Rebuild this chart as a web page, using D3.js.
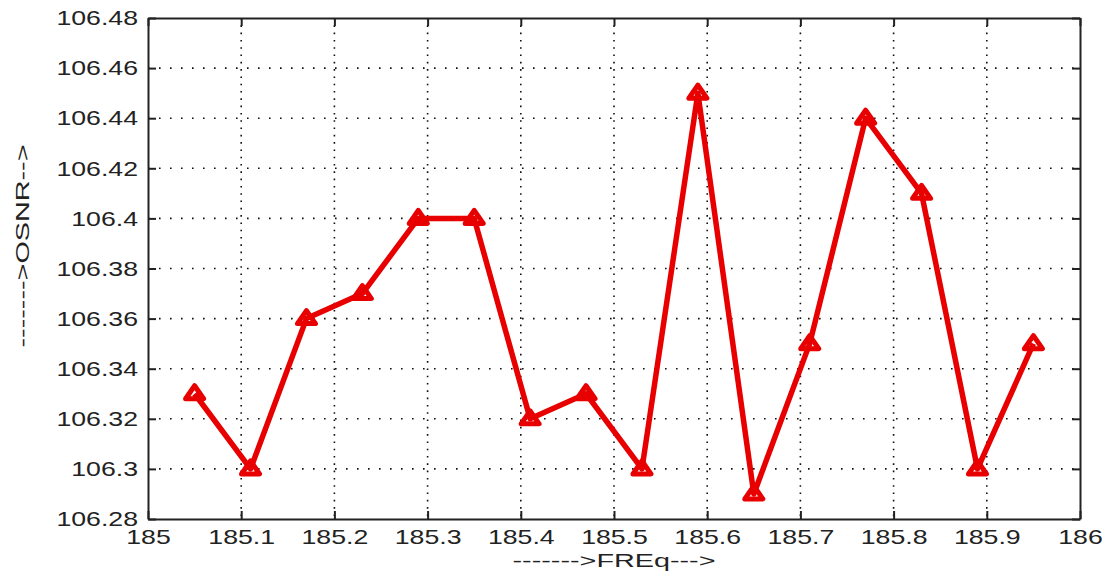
<!DOCTYPE html>
<html>
<head>
<meta charset="utf-8">
<script src="https://cdn.jsdelivr.net/npm/d3@7"></script>
<style>
  html, body { margin: 0; padding: 0; background: #fff; }
  svg { display: block; }
  .tick text { font-family: "Liberation Sans", Arial, sans-serif; fill: #222; }
</style>
</head>
<body>
<svg id="chart" width="1108" height="577"></svg>
<script>
// Frequency sweep and the measured OSNR at each channel
const freq = [185.05, 185.11, 185.17, 185.23, 185.29, 185.35, 185.41, 185.47,
              185.53, 185.59, 185.65, 185.71, 185.77, 185.83, 185.89, 185.95];
const osnr = [106.33, 106.30, 106.36, 106.37, 106.40, 106.40, 106.32, 106.33,
              106.30, 106.45, 106.29, 106.35, 106.44, 106.41, 106.30, 106.35];

const xTicks = [185, 185.1, 185.2, 185.3, 185.4, 185.5, 185.6, 185.7, 185.8, 185.9, 186];
const yTicks = [106.28, 106.3, 106.32, 106.34, 106.36, 106.38, 106.4, 106.42, 106.44, 106.46, 106.48];

const xTitle = "------->FREq--->";
const yTitle = "------->OSNR-->";

const margin = { left: 148, right: 28, top: 18, bottom: 58 };
const W = 1108, H = 577;
const iw = W - margin.left - margin.right;
const ih = H - margin.top - margin.bottom;

const svg = d3.select("#chart");
const g = svg.append("g").attr("transform", `translate(${margin.left},${margin.top})`);

const x = d3.scaleLinear().domain([185, 186]).range([0, iw]);
const y = d3.scaleLinear().domain([106.28, 106.48]).range([ih, 0]);

const fmt = v => String(+v.toFixed(2));
const stretch = 1.27;
const titleStretch = 1.6;

// dotted grid
g.append("g").selectAll("line").data(xTicks.slice(1, -1)).join("line")
  .attr("x1", d => x(d)).attr("x2", d => x(d))
  .attr("y1", 0).attr("y2", ih)
  .attr("stroke", "#111").attr("stroke-width", 1.6)
  .attr("stroke-dasharray", "1.6,5.7");
g.append("g").selectAll("line").data(yTicks.slice(1, -1)).join("line")
  .attr("x1", 0).attr("x2", iw)
  .attr("y1", d => y(d)).attr("y2", d => y(d))
  .attr("stroke", "#111").attr("stroke-width", 1.6)
  .attr("stroke-dasharray", "1.6,9.4");

// axes with inward ticks on all four sides
const styleAxis = sel => {
  sel.select(".domain").attr("stroke", "#222").attr("stroke-width", 2);
  sel.selectAll(".tick line").attr("stroke", "#222").attr("stroke-width", 2);
};

const gx = g.append("g").attr("transform", `translate(0,${ih})`)
  .call(d3.axisBottom(x).tickValues(xTicks).tickFormat(fmt)
    .tickSizeInner(-8).tickSizeOuter(0).tickPadding(10));
gx.call(styleAxis);
gx.selectAll(".tick text").attr("font-size", 21)
  .attr("transform", `scale(${stretch},1)`);

const gy = g.append("g")
  .call(d3.axisLeft(y).tickValues(yTicks).tickFormat(fmt)
    .tickSizeInner(-8).tickSizeOuter(0).tickPadding(10));
gy.call(styleAxis);
gy.selectAll(".tick text").attr("font-size", 21)
  .attr("x", -10 / stretch)
  .attr("transform", `scale(${stretch},1)`);

g.append("g")
  .call(d3.axisTop(x).tickValues(xTicks).tickFormat("").tickSizeInner(-8).tickSizeOuter(0))
  .call(styleAxis);
g.append("g").attr("transform", `translate(${iw},0)`)
  .call(d3.axisRight(y).tickValues(yTicks).tickFormat("").tickSizeInner(-8).tickSizeOuter(0))
  .call(styleAxis);

// axis titles
svg.append("text")
  .attr("transform", `translate(${margin.left + iw / 2},${H - 10}) scale(${titleStretch},1)`)
  .attr("text-anchor", "middle")
  .attr("font-family", "Liberation Sans, Arial, sans-serif")
  .attr("font-size", 18).attr("fill", "#222")
  .text(xTitle);
svg.append("text")
  .attr("transform", `translate(29,246) rotate(-90) scale(${titleStretch},1)`)
  .attr("text-anchor", "middle")
  .attr("font-family", "Liberation Sans, Arial, sans-serif")
  .attr("font-size", 18).attr("fill", "#222")
  .text(yTitle);

// data line
const pts = freq.map((f, i) => [f, osnr[i]]);
const red = "#e80000";
g.append("path").datum(pts)
  .attr("fill", "none").attr("stroke", red).attr("stroke-width", 5.5)
  .attr("stroke-linejoin", "round")
  .attr("d", d3.line().x(d => x(d[0])).y(d => y(d[1])));

// triangle markers
g.append("g").selectAll("path").data(pts).join("path")
  .attr("transform", d => `translate(${x(d[0])},${y(d[1])})`)
  .attr("d", "M0,-8L9,5L-9,5Z")
  .attr("fill", "none").attr("stroke", red).attr("stroke-width", 5)
  .attr("stroke-linejoin", "round");
</script>
</body>
</html>
